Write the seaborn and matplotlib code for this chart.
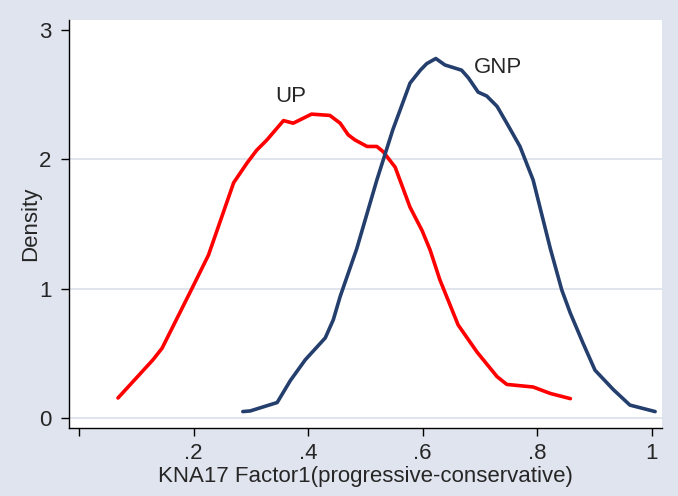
import pandas as pd
import matplotlib.pyplot as plt
import seaborn as sns

# density curves (UP = red, GNP = navy)
up_x = [0.068, 0.129, 0.145, 0.197, 0.226, 0.27, 0.293, 0.31, 0.328, 0.357, 0.374,
        0.406, 0.438, 0.456, 0.47, 0.482, 0.503, 0.52, 0.531, 0.552, 0.578, 0.599,
        0.613, 0.63, 0.662, 0.695, 0.73, 0.747, 0.77, 0.793, 0.823, 0.858]
up_y = [0.155, 0.45, 0.54, 1.0, 1.26, 1.82, 1.97, 2.07, 2.15, 2.30, 2.28,
        2.35, 2.34, 2.28, 2.19, 2.15, 2.10, 2.10, 2.06, 1.94, 1.63, 1.45,
        1.30, 1.07, 0.72, 0.51, 0.32, 0.26, 0.25, 0.24, 0.19, 0.15]

gnp_x = [0.286, 0.299, 0.346, 0.369, 0.395, 0.43, 0.444, 0.456, 0.485, 0.52, 0.548,
         0.578, 0.596, 0.607, 0.623, 0.639, 0.668, 0.68, 0.697, 0.712, 0.73, 0.747,
         0.77, 0.793, 0.823, 0.843, 0.858, 0.88, 0.901, 0.933, 0.962, 1.006]
gnp_y = [0.05, 0.055, 0.12, 0.29, 0.45, 0.62, 0.76, 0.94, 1.31, 1.84, 2.23,
         2.59, 2.69, 2.74, 2.78, 2.73, 2.69, 2.63, 2.52, 2.49, 2.41, 2.28,
         2.10, 1.84, 1.31, 0.99, 0.81, 0.58, 0.37, 0.22, 0.10, 0.05]

x_ticks = [0, 0.2, 0.4, 0.6, 0.8, 1.0]
x_tick_labels = ["", ".2", ".4", ".6", ".8", "1"]
y_ticks = [0, 1, 2, 3]

df = pd.concat([
    pd.DataFrame({"x": up_x, "y": up_y, "party": "UP"}),
    pd.DataFrame({"x": gnp_x, "y": gnp_y, "party": "GNP"}),
])

sns.set_style("ticks")
plt.rcParams["font.family"] = ["Liberation Sans", "DejaVu Sans"]

bg = "#DFE4EE"
fig = plt.figure(figsize=(6.78, 4.96), dpi=100, facecolor=bg)
ax = fig.add_axes([0.1018, 0.1371, 0.8746, 0.8226])
ax.set_facecolor("white")

# light horizontal grid lines
for g in [0, 1, 2]:
    ax.axhline(g, color="#DCE2EC", lw=1.3, zorder=0)

sns.lineplot(data=df, x="x", y="y", hue="party", sort=False, estimator=None,
             palette={"UP": "#FF0000", "GNP": "#243F6D"}, lw=2.6,
             legend=False, ax=ax)

ax.text(0.369, 2.49, "UP", fontsize=16, ha="center", va="center")
ax.text(0.732, 2.71, "GNP", fontsize=16, ha="center", va="center")

ax.set_xlim(-0.0175, 1.018)
ax.set_ylim(-0.077, 3.078)
ax.set_xticks(x_ticks)
ax.set_xticklabels(x_tick_labels)
ax.set_yticks(y_ticks)
ax.tick_params(axis="both", labelsize=16, length=6, width=1, color="black")
ax.tick_params(axis="x", pad=4.5)
ax.tick_params(axis="y", labelrotation=0, pad=6.5)
ax.set_xlabel("KNA17 Factor1(progressive-conservative)", fontsize=16, labelpad=1.5)
ax.set_ylabel("Density", fontsize=16, labelpad=-1.5)

sns.despine(ax=ax)
for s in ["left", "bottom"]:
    ax.spines[s].set_color("black")
    ax.spines[s].set_linewidth(1)

fig.savefig("out.png", dpi=100, facecolor=bg)
